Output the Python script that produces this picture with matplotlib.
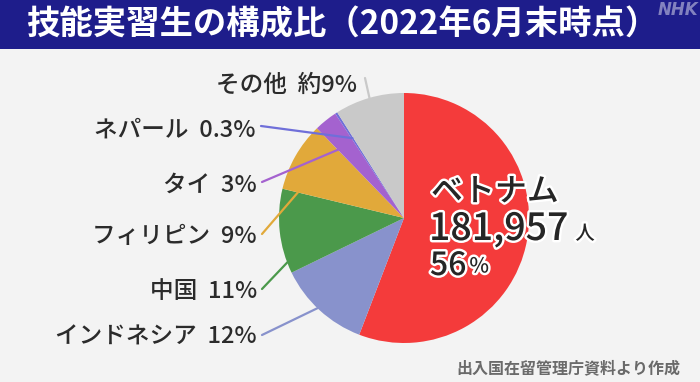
import numpy as np
import matplotlib
matplotlib.use('Agg')
import matplotlib.pyplot as plt
import matplotlib.patheffects as pe

plt.rcParams['font.family'] = ['Noto Sans CJK JP', 'DejaVu Sans']

# 데이터 (2022년 6월말 기능실습생 구성비)
countries = ['ベトナム', 'インドネシア', '中国', 'フィリピン', 'タイ', 'ネパール', 'その他']
shares = [56, 12, 11, 9, 3, 0.3, 9]
share_labels = ['56%', '12%', '11%', '9%', '3%', '0.3%', '約9%']
vietnam_people = '181,957'
colors = ['#f43b3b', '#8892cc', '#4b994b', '#e1a93a', '#a462cf', '#6f6fd9', '#c9c9c9']

title = '技能実習生の構成比（2022年6月末時点）'
source = '出入国在留管理庁資料より作成'

W, H = 700, 382


def fx(x):
    return x / W


def fy(y):
    return 1 - y / H


fig = plt.figure(figsize=(W / 100, H / 100), dpi=100)
fig.patch.set_facecolor('#f3f3f3')

# 상단 타이틀 띠
banner = fig.add_axes([0, fy(49), 1, 49 / H])
banner.set_facecolor('#1e1d8b')
banner.set_xticks([])
banner.set_yticks([])
for s in banner.spines.values():
    s.set_visible(False)
fig.text(fx(26), fy(25), title, color='white', fontsize=24, fontweight='bold',
         ha='left', va='center')
fig.text(fx(698), fy(10), 'NHK', color='white', alpha=0.45, fontsize=12,
         fontweight='bold', style='italic', ha='right', va='center',
         family='DejaVu Sans')

# 원그래프
cx, cy, r = 404, 218, 125
ax = fig.add_axes([fx(cx - r), fy(cy + r), 2 * r / W, 2 * r / H])
wedges, _ = ax.pie(shares, colors=colors, startangle=90, counterclock=False,
                   radius=1, wedgeprops=dict(linewidth=0))
ax.set_xlim(-1, 1)
ax.set_ylim(-1, 1)
ax.axis('off')

# 왼쪽 라벨 + 지시선 (인도네시아 ~ 기타)
label_xy = [None, (257, 337), (257, 292), (257, 237), (257, 185), (255, 130), (357, 85)]
line_start = [None, (262, 335), (262, 289), (262, 234), (262, 182), (261, 126), (365, 78)]
anchor_frac = [None, 0.47, 0.85, 0.9, 0.8, 0.5, 0.5]
anchor_r = [None, 1.0, 0.97, 0.85, 0.75, 0.76, 0.97]

for i in range(1, len(countries)):
    x, y = label_xy[i]
    fig.text(fx(x), fy(y), countries[i] + '  ' + share_labels[i], color='#2b2b2b',
             fontsize=17, fontweight='medium', ha='right', va='center')
    w = wedges[i]
    ang = np.deg2rad(w.theta1 + anchor_frac[i] * (w.theta2 - w.theta1))
    px, py = anchor_r[i] * np.cos(ang), anchor_r[i] * np.sin(ang)
    sx, sy = line_start[i]
    ax.annotate('', xy=(px, py), xycoords='data',
                xytext=(fx(sx), fy(sy)), textcoords='figure fraction',
                arrowprops=dict(arrowstyle='-', color=colors[i], lw=1.6,
                                shrinkA=0, shrinkB=0),
                annotation_clip=False)

# 베트남 라벨
stroke = [pe.withStroke(linewidth=3.5, foreground='white')]
fig.text(fx(431), fy(192), countries[0], color='#262626', fontsize=23,
         fontweight='medium', ha='left', va='center', path_effects=stroke)
t_num = fig.text(fx(429), fy(229), vietnam_people, color='#262626', fontsize=27,
                 fontweight='medium', ha='left', va='center', path_effects=stroke)
plt.annotate('人', xy=(1, 0.12), xycoords=t_num, xytext=(5, 0),
             textcoords='offset points', color='#262626', fontsize=14,
             fontweight='medium', ha='left', va='bottom', path_effects=stroke,
             annotation_clip=False)
t_pct = fig.text(fx(430), fy(266), share_labels[0][:-1], color='#262626', fontsize=23,
                 fontweight='medium', ha='left', va='center', path_effects=stroke)
plt.annotate('%', xy=(1, 0.14), xycoords=t_pct, xytext=(2, 0),
             textcoords='offset points', color='#262626', fontsize=15,
             fontweight='medium', ha='left', va='bottom', path_effects=stroke,
             annotation_clip=False)

# 출처
fig.text(fx(680), fy(368), source, color='#6a6a6a', fontsize=11.5,
         fontweight='bold', ha='right', va='center')

fig.savefig('out.png', dpi=100, facecolor=fig.get_facecolor())
